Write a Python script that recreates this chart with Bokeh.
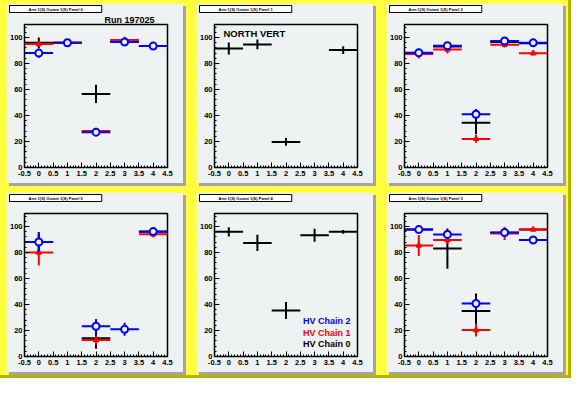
import numpy as np
from bokeh.plotting import figure
from bokeh.layouts import gridplot
from bokeh.models import ColumnDataSource, FixedTicker, Label, Legend, LegendItem, Range1d, Title
from bokeh.embed import file_html
from bokeh.resources import INLINE

nan = float("nan")
bins = [0, 1, 2, 3, 4]

x_tick_vals = [-0.5, 0, 0.5, 1, 1.5, 2, 2.5, 3, 3.5, 4, 4.5]
x_tick_labels = ["-0.5", "0", "0.5", "1", "1.5", "2", "2.5", "3", "3.5", "4", "4.5"]
y_tick_vals = [0, 20, 40, 60, 80, 100]
y_tick_labels = ["0", "20", "40", "60", "80", "100"]

panel_titles = ["Arm 1(S) Octant 1(S) Panel 0", "Arm 1(S) Octant 1(S) Panel 1",
                "Arm 1(S) Octant 1(S) Panel 2", "Arm 1(S) Octant 1(S) Panel 5",
                "Arm 1(S) Octant 1(S) Panel 4", "Arm 1(S) Octant 1(S) Panel 3"]

# HV Chain 0 (black)
p0_c0 = [96.0, 96.0, 56.6, 97.0, 93.5]; p0_c0_err = [4.0, 1.5, 7.0, 1.5, 1.0]
p1_c0 = [91.5, 94.7, 19.7, nan, 90.3];  p1_c0_err = [4.6, 3.8, 3.0, nan, 3.0]
p2_c0 = [88.0, 93.0, 34.5, 96.5, 95.5]; p2_c0_err = [3.0, 2.5, 9.0, 2.0, 1.0]
p5_c0 = [88.0, nan, 14.0, nan, 96.0];   p5_c0_err = [7.5, nan, 8.0, nan, 2.0]
p4_c0 = [95.9, 87.4, 35.4, 93.2, 95.9]; p4_c0_err = [3.5, 6.3, 6.5, 5.0, 1.5]
p3_c0 = [97.6, 83.0, 35.0, 95.2, 97.6]; p3_c0_err = [1.5, 15.5, 13.5, 3.0, 1.0]

# HV Chain 1 (red)
p0_c1 = [95.0, 96.0, 28.0, 98.0, 93.5]; p0_c1_err = [2.0, 1.5, 1.0, 1.5, 1.0]
p1_c1 = [nan, nan, nan, nan, nan];      p1_c1_err = [nan, nan, nan, nan, nan]
p2_c1 = [87.3, 90.7, 22.0, 94.4, 87.8]; p2_c1_err = [3.5, 3.0, 3.0, 2.0, 1.5]
p5_c1 = [80.0, nan, 12.6, nan, 94.0];   p5_c1_err = [10.0, nan, 3.5, nan, 2.5]
p4_c1 = [nan, nan, nan, nan, nan];      p4_c1_err = [nan, nan, nan, nan, nan]
p3_c1 = [85.4, 89.6, 20.4, 94.7, 97.6]; p3_c1_err = [8.0, 3.0, 5.0, 5.0, 1.0]

# HV Chain 2 (blue)
p0_c2 = [88.0, 96.0, 27.2, 96.5, 93.4]; p0_c2_err = [3.5, 1.5, 3.0, 1.5, 1.0]
p1_c2 = [nan, nan, nan, nan, nan];      p1_c2_err = [nan, nan, nan, nan, nan]
p2_c2 = [88.3, 93.7, 41.0, 97.3, 95.9]; p2_c2_err = [3.0, 2.5, 4.0, 2.0, 1.0]
p5_c2 = [88.1, nan, 23.3, 20.9, 96.1];  p5_c2_err = [7.5, nan, 5.5, 5.0, 2.0]
p4_c2 = [nan, nan, nan, nan, nan];      p4_c2_err = [nan, nan, nan, nan, nan]
p3_c2 = [97.6, 93.9, 40.8, 95.4, 89.6]; p3_c2_err = [1.5, 2.0, 4.0, 2.0, 1.0]

legend_labels = ["HV Chain 2", "HV Chain 1", "HV Chain 0"]
run_label = "Run 197025"
north_label = "NORTH VERT"

BG = "#eef2f3"
FONT = "Liberation Sans"
C0, C1, C2 = "black", "#ff0000", "#0000ff"


def src_for(vals, errs):
    return ColumnDataSource(dict(
        x=bins, y=vals,
        xl=[b - 0.5 for b in bins], xr=[b + 0.5 for b in bins],
        yl=[v - e for v, e in zip(vals, errs)], yh=[v + e for v, e in zip(vals, errs)],
    ))


def draw_series(p, vals, errs, color, marker):
    s = src_for(vals, errs)
    p.segment(x0="xl", y0="y", x1="xr", y1="y", source=s, line_color=color, line_width=2)
    p.segment(x0="x", y0="yl", x1="x", y1="yh", source=s, line_color=color, line_width=2)
    if marker == "circle":
        p.scatter("x", "y", source=s, marker="circle", size=7, line_color=color,
                  line_width=2, fill_color=BG)
    elif marker == "triangle":
        p.scatter("x", "y", source=s, marker="triangle", size=5, line_color=color,
                  line_width=1.5, fill_color=color)


def make_panel(title, c0, e0, c1, e1, c2, e2, top_text=" "):
    p = figure(width=177, height=180, x_range=Range1d(-0.5, 4.5), y_range=Range1d(0, 110),
               output_backend="svg", toolbar_location=None,
               min_border_left=16, min_border_right=16, min_border_top=8, min_border_bottom=16,
               background_fill_color=BG, border_fill_color=BG,
               outline_line_color="black", outline_line_width=1.5)
    p.grid.visible = False
    p.xaxis.ticker = FixedTicker(ticks=x_tick_vals,
                                 minor_ticks=list(np.round(np.arange(-0.5, 4.55, 0.1), 2)))
    p.xaxis.major_label_overrides = {float(k): v for k, v in zip(x_tick_vals, x_tick_labels)}
    p.yaxis.ticker = FixedTicker(ticks=y_tick_vals, minor_ticks=list(range(0, 111, 4)))
    p.yaxis.major_label_overrides = {float(k): v for k, v in zip(y_tick_vals, y_tick_labels)}
    for ax in (p.xaxis[0], p.yaxis[0]):
        ax.axis_line_color = "black"
        ax.major_tick_in = 5
        ax.major_tick_out = 0
        ax.minor_tick_in = 2
        ax.minor_tick_out = 0
        ax.major_label_text_font = FONT
        ax.major_label_text_font_style = "bold"
        ax.major_label_text_font_size = "7.5px"
        ax.major_label_text_color = "black"
    p.xaxis.major_label_standoff = 3
    p.yaxis.major_label_standoff = 2
    draw_series(p, c0, e0, C0, None)
    draw_series(p, c1, e1, C1, "triangle")
    draw_series(p, c2, e2, C2, "circle")
    # inner title row (same height in every pad so that the frames line up)
    p.add_layout(Title(text=top_text, align="left", offset=80, standoff=0,
                       text_font=FONT, text_font_style="bold", text_font_size="9px",
                       text_color="black"), "above")
    # pad title box at the pad's top-left corner
    p.add_layout(Title(text=title, align="left", offset=-15, standoff=0,
                       text_font=FONT, text_font_style="bold", text_font_size="4px",
                       text_color="black", background_fill_color="white",
                       border_line_color="black", border_line_width=1,
                       padding=dict(left=19, right=19, top=1, bottom=1)), "above")
    p.styles = {"box-shadow": "3px 3px 0px #a4a4a4"}
    return p


f0 = make_panel(panel_titles[0], p0_c0, p0_c0_err, p0_c1, p0_c1_err, p0_c2, p0_c2_err, run_label)
f1 = make_panel(panel_titles[1], p1_c0, p1_c0_err, p1_c1, p1_c1_err, p1_c2, p1_c2_err)
f2 = make_panel(panel_titles[2], p2_c0, p2_c0_err, p2_c1, p2_c1_err, p2_c2, p2_c2_err)
f5 = make_panel(panel_titles[3], p5_c0, p5_c0_err, p5_c1, p5_c1_err, p5_c2, p5_c2_err)
f4 = make_panel(panel_titles[4], p4_c0, p4_c0_err, p4_c1, p4_c1_err, p4_c2, p4_c2_err)
f3 = make_panel(panel_titles[5], p3_c0, p3_c0_err, p3_c1, p3_c1_err, p3_c2, p3_c2_err)

f1.add_layout(Label(x=-0.5, y=110, x_offset=9, y_offset=-3, text=north_label, text_font=FONT,
                    text_font_style="bold", text_font_size="9.5px", text_baseline="top",
                    text_align="left", text_color="black"))

# legend in bottom-middle panel
empty = ColumnDataSource(dict(x=[], y=[]))
r2 = f4.scatter("x", "y", source=empty, marker="circle", line_color=C2, line_width=2, fill_color=BG)
r1 = f4.scatter("x", "y", source=empty, marker="triangle", line_color=C1, line_width=1.5, fill_color=C1)
r0 = f4.scatter("x", "y", source=empty, marker="cross", line_color=C0, line_width=1.5)
for r, lab, col, yc in zip([r2, r1, r0], legend_labels, [C2, C1, C0], [35, 23, 12]):
    lg = Legend(items=[LegendItem(label=lab, renderers=[r])], location=(71, yc - 6),
                glyph_width=12, glyph_height=12, label_height=12, label_standoff=6,
                padding=0, margin=0, spacing=0, border_line_alpha=0, background_fill_alpha=0,
                label_text_font=FONT, label_text_font_style="bold", label_text_font_size="9px",
                label_text_color=col)
    f4.add_layout(lg)

grid = gridplot([[f0, f1, f2], [f5, f4, f3]], toolbar_location=None)
grid.spacing = (9, 13)
grid.styles = {"background-color": "#ffff40", "padding": "3px 5px 3px 6px",
               "border-right": "3px solid #b4b400", "border-bottom": "3px solid #b4b400"}

open("out.html", "w").write(file_html(grid, INLINE))
